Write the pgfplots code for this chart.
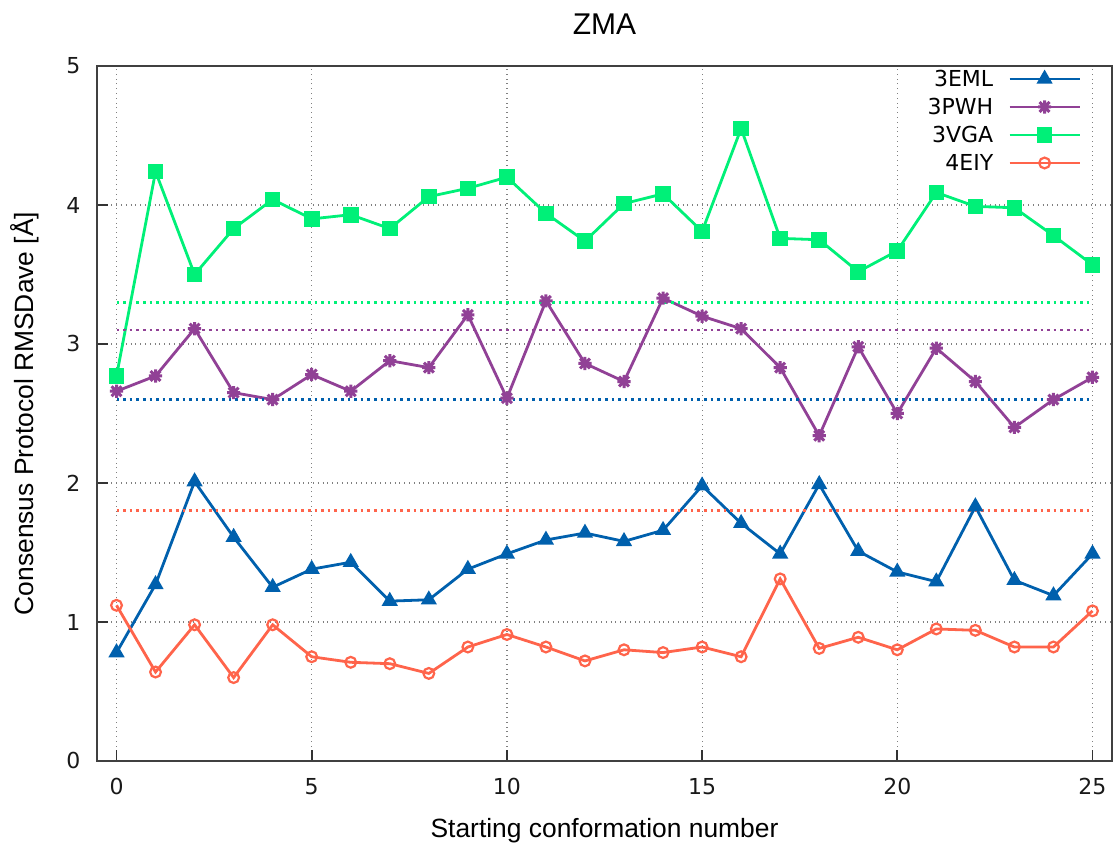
\documentclass[border=0pt]{standalone}
\usepackage{pgfplots}
\pgfplotsset{compat=1.18}
\usepackage{fontspec}
\setmainfont{Liberation Sans}
\newfontfamily\djv{DejaVu Sans}
\definecolor{cblue}{RGB}{0,96,173}
\definecolor{cpurple}{RGB}{145,65,150}
\definecolor{cgreen}{RGB}{0,240,120}
\definecolor{cred}{RGB}{255,100,75}
\pgfdeclareplotmark{gpstar}{%
  \pgfpathmoveto{\pgfqpoint{-\pgfplotmarksize}{0pt}}\pgfpathlineto{\pgfqpoint{\pgfplotmarksize}{0pt}}%
  \pgfpathmoveto{\pgfqpoint{0pt}{-\pgfplotmarksize}}\pgfpathlineto{\pgfqpoint{0pt}{\pgfplotmarksize}}%
  \pgfpathmoveto{\pgfqpoint{-0.75\pgfplotmarksize}{-0.75\pgfplotmarksize}}\pgfpathlineto{\pgfqpoint{0.75\pgfplotmarksize}{0.75\pgfplotmarksize}}%
  \pgfpathmoveto{\pgfqpoint{-0.75\pgfplotmarksize}{0.75\pgfplotmarksize}}\pgfpathlineto{\pgfqpoint{0.75\pgfplotmarksize}{-0.75\pgfplotmarksize}}%
  \pgfusepathqstroke}
\begin{document}
\begin{tikzpicture}
\begin{axis}[
  name=main,
  scale only axis,
  width=507.5pt, height=347.5pt,
  xmin=-0.5, xmax=25.5, ymin=0, ymax=5,
  xtick={0,5,10,15,20,25}, ytick={0,1,2,3,4,5},
  tick align=inside, tick pos=left,
  major tick length=5.5pt,
  tick style={line width=0.8pt, black!80},
  axis line style={line width=0.8pt, black!75},
  grid=major,
  major grid style={dotted, line width=0.6pt, gray},
  /pgf/number format/assume math mode=true,
  tick label style={font=\djv\fontsize{11}{13}\selectfont, black!90},
  xticklabel style={yshift=-5pt},
  yticklabel style={xshift=-4.8pt},
  title={ZMA},
  title style={font=\fontsize{15}{17}\selectfont, at={(axis description cs:0.5,1)}, anchor=center, yshift=15pt},
  xlabel={Starting conformation number},
  ylabel={Consensus Protocol RMSDave [Å]},
  xlabel style={font=\fontsize{13.2}{15}\selectfont, at={(axis description cs:0.5,0)}, anchor=center, yshift=-35pt},
  every axis y label/.style={font=\fontsize{13.2}{15}\selectfont, at={(axis description cs:-0.0709,0.5)}, rotate=90, anchor=center},
  legend style={draw=none, fill=none, font=\djv\fontsize{11}{13}\selectfont,
    legend plot pos=right, legend cell align=right,
    inner sep=0pt, outer sep=0pt,
    nodes={inner sep=0pt, text height=8pt, text depth=0pt},
    row sep=6pt, column sep=7.5pt,
    at={(1,1)}, anchor=north east, xshift=-15.5pt, yshift=-2.5pt},
  legend image code/.code={\draw[mark repeat=2,mark phase=2] plot coordinates {(0pt,0pt)(17.5pt,0pt)(35pt,0pt)};},
]
\addplot[cblue, line width=1.4pt, mark=triangle*, mark size=3.3pt] coordinates {
(0,0.78)(1,1.27)(2,2.01)(3,1.61)(4,1.25)(5,1.38)(6,1.43)(7,1.15)(8,1.16)(9,1.38)
(10,1.49)(11,1.59)(12,1.64)(13,1.58)(14,1.66)(15,1.98)(16,1.71)(17,1.49)(18,1.99)(19,1.51)
(20,1.36)(21,1.29)(22,1.83)(23,1.30)(24,1.19)(25,1.49)};
\addlegendentry{3EML}
\addplot[cpurple, line width=1.4pt, mark=gpstar, mark size=3.3pt, mark options={line width=1.5pt}] coordinates {
(0,2.66)(1,2.77)(2,3.11)(3,2.65)(4,2.60)(5,2.78)(6,2.66)(7,2.88)(8,2.83)(9,3.21)
(10,2.61)(11,3.31)(12,2.86)(13,2.73)(14,3.33)(15,3.20)(16,3.11)(17,2.83)(18,2.34)(19,2.98)
(20,2.50)(21,2.97)(22,2.73)(23,2.40)(24,2.60)(25,2.76)};
\addlegendentry{3PWH}
\addplot[cgreen, line width=1.4pt, mark=square*, mark size=3.2pt] coordinates {
(0,2.77)(1,4.24)(2,3.50)(3,3.83)(4,4.04)(5,3.90)(6,3.93)(7,3.83)(8,4.06)(9,4.12)
(10,4.20)(11,3.94)(12,3.74)(13,4.01)(14,4.08)(15,3.81)(16,4.55)(17,3.76)(18,3.75)(19,3.52)
(20,3.67)(21,4.09)(22,3.99)(23,3.98)(24,3.78)(25,3.57)};
\addlegendentry{3VGA}
\addplot[cred, line width=1.4pt, mark=o, mark size=2.7pt, mark options={line width=1.1pt}] coordinates {
(0,1.12)(1,0.64)(2,0.98)(3,0.60)(4,0.98)(5,0.75)(6,0.71)(7,0.70)(8,0.63)(9,0.82)
(10,0.91)(11,0.82)(12,0.72)(13,0.80)(14,0.78)(15,0.82)(16,0.75)(17,1.31)(18,0.81)(19,0.89)
(20,0.80)(21,0.95)(22,0.94)(23,0.82)(24,0.82)(25,1.08)};
\addlegendentry{4EIY}
\addplot[cblue, dotted, line width=1.3pt, forget plot] coordinates {(0,2.6)(25,2.6)};
\addplot[cpurple, dotted, line width=1.3pt, forget plot] coordinates {(0,3.1)(25,3.1)};
\addplot[cgreen, dotted, line width=1.3pt, forget plot] coordinates {(0,3.3)(25,3.3)};
\addplot[cred, dotted, line width=1.3pt, forget plot] coordinates {(0,1.8)(25,1.8)};
\end{axis}
\pgfresetboundingbox
\path ([xshift=-48.5pt,yshift=-41pt]main.south west) rectangle ([xshift=1pt,yshift=33pt]main.north east);
\end{tikzpicture}
\end{document}
